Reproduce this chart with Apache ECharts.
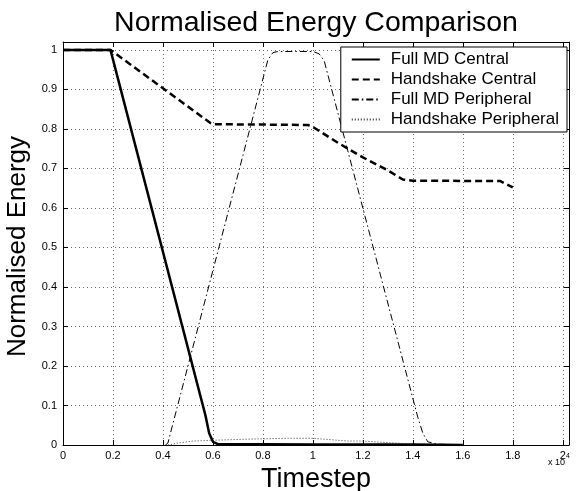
<!DOCTYPE html>
<html>
<head>
<meta charset="utf-8">
<script src="https://cdn.jsdelivr.net/npm/echarts@6/dist/echarts.min.js"></script>
<style>
  html, body { margin: 0; padding: 0; background: #fff; }
  #chart { width: 576px; height: 491px; }
</style>
</head>
<body>
<div id="chart"></div>
<script>
// series names (legend order)
const seriesNames = ['Full MD Central', 'Handshake Central', 'Full MD Peripheral', 'Handshake Peripheral'];

// [timestep, normalised energy]
const fullMdCentral = [
  [0, 1], [1900, 1], [5700, 0.075], [5850, 0.03], [6000, 0.008], [6200, 0.002],
  [8000, 0.002], [10000, 0.001], [12000, 0.001], [14000, 0.001], [16000, 0]
];
const handshakeCentral = [
  [0, 1], [1900, 1], [5900, 0.815], [6000, 0.812], [9800, 0.81], [10000, 0.805],
  [11000, 0.765], [12000, 0.728], [13000, 0.695], [13600, 0.672], [14000, 0.669],
  [17500, 0.668], [18000, 0.652]
];
const fullMdPeripheral = [
  [4100, 0], [4200, 0.005], [4300, 0.03], [8200, 0.975], [8400, 0.993], [8600, 0.996],
  [10000, 0.996], [10250, 0.99], [10450, 0.973], [14200, 0.07], [14400, 0.03],
  [14600, 0.008], [15000, 0.002], [16000, 0.001]
];
const handshakePeripheral = [
  [4200, 0], [4600, 0.005], [5200, 0.01], [6000, 0.012], [7500, 0.015], [9000, 0.017],
  [10000, 0.017], [10600, 0.014], [11400, 0.01], [12000, 0.01], [13000, 0.006],
  [13600, 0.004], [14000, 0.001]
];

const xMax = 20250, xStep = 2000;
const yMax = 1.02, yStep = 0.1;

const font = 'Liberation Sans, Arial, Helvetica, sans-serif';
const chart = echarts.init(document.getElementById('chart'));

const gridLine = { show: true, lineStyle: { color: '#666', width: 1, type: [1, 3] } };
const frameLine = { show: true, onZero: false, lineStyle: { color: '#000', width: 1 } };
const innerTick = { show: true, inside: true, length: 5, lineStyle: { color: '#000' } };

function lineSeries(name, data, width, type, color) {
  return {
    name: name,
    type: 'line',
    data: data,
    symbol: 'none',
    animation: false,
    lineStyle: { color: color, width: width, type: type },
    itemStyle: { color: color }
  };
}

chart.setOption({
  animation: false,
  backgroundColor: '#fff',
  title: {
    text: 'Normalised Energy Comparison',
    left: 311,
    textAlign: 'center',
    top: 4,
    textStyle: { fontFamily: font, fontSize: 28.5, fontWeight: 'normal', color: '#000' }
  },
  grid: { left: 63, right: 7, top: 42, bottom: 46, outerBoundsMode: 'none', containLabel: false },
  legend: {
    data: seriesNames,
    orient: 'vertical',
    right: 9,
    top: 47,
    itemWidth: 28,
    itemHeight: 14,
    itemGap: 3,
    padding: [4, 8, 4, 10],
    backgroundColor: '#fff',
    borderColor: '#000',
    borderWidth: 1,
    borderRadius: 0,
    itemStyle: { opacity: 0 },
    textStyle: { fontFamily: font, fontSize: 17, lineHeight: 17, color: '#000', padding: [0, 0, 0, 6] }
  },
  xAxis: [{
    type: 'value',
    min: 0, max: xMax, interval: xStep,
    name: 'Timestep',
    nameLocation: 'middle',
    nameGap: 19,
    nameTextStyle: { fontFamily: font, fontSize: 27, color: '#000' },
    axisLine: frameLine,
    axisTick: innerTick,
    splitLine: gridLine,
    axisLabel: {
      showMaxLabel: false, margin: 5,
      fontFamily: font, fontSize: 11, color: '#000',
      formatter: v => String(+(v / 10000).toFixed(2))
    }
  }, {
    type: 'value', position: 'top',
    min: 0, max: xMax, interval: xStep,
    axisLine: frameLine, axisTick: innerTick,
    axisLabel: { show: false }, splitLine: { show: false }
  }],
  yAxis: [{
    type: 'value',
    min: 0, max: yMax, interval: yStep,
    name: 'Normalised Energy',
    nameLocation: 'middle',
    nameGap: 26,
    nameTextStyle: { fontFamily: font, fontSize: 26, color: '#000', padding: [0, 6, 0, 0] },
    axisLine: frameLine,
    axisTick: innerTick,
    splitLine: gridLine,
    axisLabel: {
      showMaxLabel: false, margin: 6,
      fontFamily: font, fontSize: 11, color: '#000',
      formatter: v => String(+v.toFixed(2))
    }
  }, {
    type: 'value', position: 'right',
    min: 0, max: yMax, interval: yStep,
    axisLine: frameLine, axisTick: innerTick,
    axisLabel: { show: false }, splitLine: { show: false }
  }],
  graphic: [{
    type: 'text',
    left: 548,
    top: 458,
    style: { text: 'x 10', font: '9px ' + font, fill: '#000' }
  }, {
    type: 'text',
    left: 566,
    top: 453,
    style: { text: '4', font: '7px ' + font, fill: '#000' }
  }],
  series: [
    lineSeries(seriesNames[0], fullMdCentral, 2.5, 'solid', '#000'),
    lineSeries(seriesNames[1], handshakeCentral, 2.5, [7, 4], '#000'),
    lineSeries(seriesNames[2], fullMdPeripheral, 1, [7, 3, 1.5, 3], '#000'),
    lineSeries(seriesNames[3], handshakePeripheral, 1, [1, 2], '#333')
  ]
});
</script>
</body>
</html>
